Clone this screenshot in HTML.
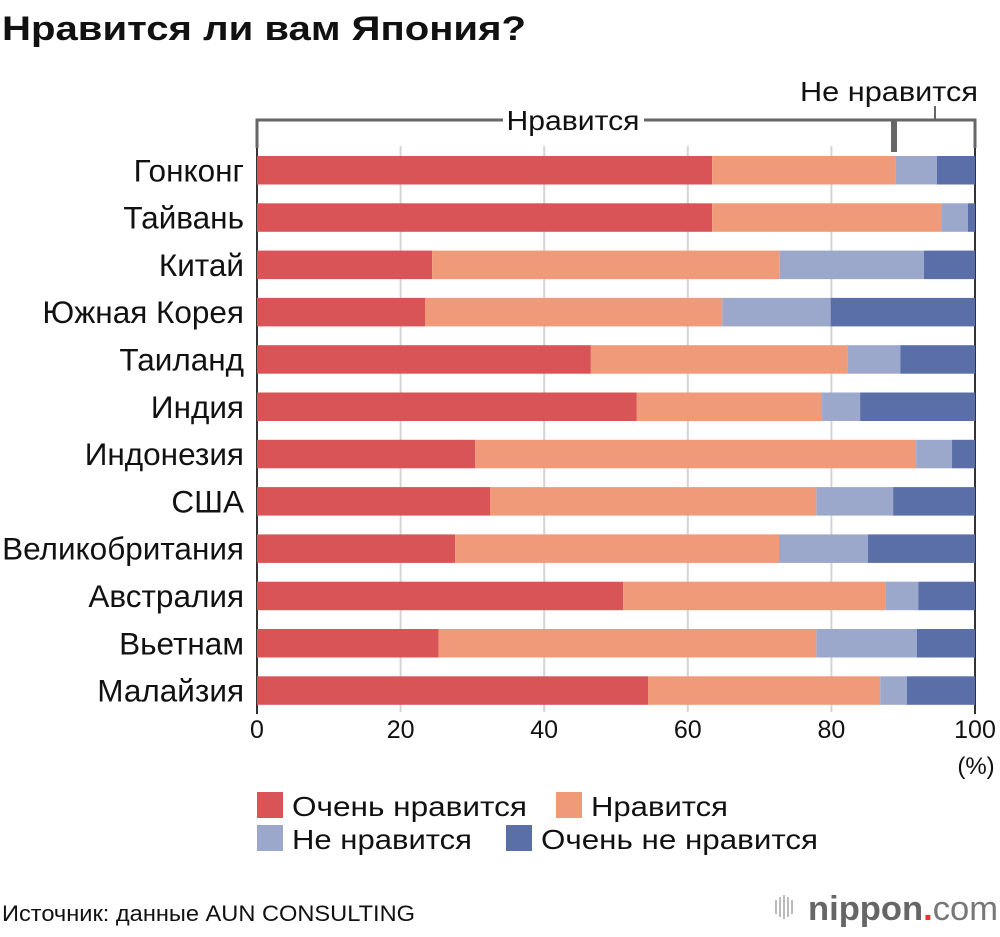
<!DOCTYPE html>
<html><head><meta charset="utf-8"><style>
body{margin:0;background:#fff;font-family:"Liberation Sans","Noto Sans CJK JP",sans-serif;}
svg text{font-family:"Liberation Sans","Noto Sans CJK JP",sans-serif;}
</style></head><body>
<svg width="1000" height="932" viewBox="0 0 1000 932" id="chart">
<text x="2" y="40" font-size="34" font-weight="bold" fill="#111" textLength="524" lengthAdjust="spacingAndGlyphs">Нравится ли вам Япония?</text>
<g id="grid"></g>
<g id="bars"></g>
<g id="labels"></g>
<g id="bracket" stroke="#666" fill="none" stroke-width="3">
<path d="M257,148 V120 H503 M644,120 H975 V148"/>
<line x1="894" y1="120" x2="894" y2="152" stroke-width="6"/>
<line x1="935" y1="106" x2="935" y2="120" stroke-width="2"/>
</g>
<text x="573" y="130" font-size="28" text-anchor="middle" fill="#111" textLength="133" lengthAdjust="spacingAndGlyphs">Нравится</text>
<text x="889" y="101" font-size="28" text-anchor="middle" fill="#111" textLength="178" lengthAdjust="spacingAndGlyphs">Не нравится</text>
<text x="976" y="774" font-size="24" text-anchor="middle" fill="#111">(%)</text>
<g id="legend" font-size="28" fill="#111">
<g><rect x="257" y="792" width="26" height="26" fill="#d85456"/><text x="292" y="816" textLength="235" lengthAdjust="spacingAndGlyphs">Очень нравится</text></g>
<g><rect x="556" y="792" width="26" height="26" fill="#f09a7a"/><text x="591" y="816" textLength="137" lengthAdjust="spacingAndGlyphs">Нравится</text></g>
<g><rect x="257" y="825" width="26" height="26" fill="#9ba8cc"/><text x="292" y="849" textLength="180" lengthAdjust="spacingAndGlyphs">Не нравится</text></g>
<g><rect x="506" y="825" width="26" height="26" fill="#5a6ea8"/><text x="541" y="849" textLength="277" lengthAdjust="spacingAndGlyphs">Очень не нравится</text></g>
</g>
<text x="2" y="921" font-size="22" fill="#111" textLength="413" lengthAdjust="spacingAndGlyphs">Источник: данные AUN CONSULTING</text>
<g>
<g fill="#bbb"><rect x="775" y="900" width="2" height="14"/><rect x="779" y="897" width="2" height="20"/><rect x="783" y="895" width="2" height="24"/><rect x="787" y="897" width="2" height="20"/><rect x="791" y="900" width="2" height="14"/></g>
<text x="808" y="920" font-size="34" font-weight="bold" fill="#666" textLength="190" lengthAdjust="spacingAndGlyphs">nippon<tspan fill="#e33">.</tspan><tspan font-weight="normal" fill="#777">com</tspan></text>
</g>
</svg>
<script>
const categories=["Гонконг","Тайвань","Китай","Южная Корея","Таиланд","Индия","Индонезия","США","Великобритания","Австралия","Вьетнам","Малайзия"];
const veryLike=[63.4,63.4,24.4,23.4,46.5,52.9,30.4,32.5,27.6,51.0,25.3,54.5];
const like=[25.5,32.0,48.4,41.4,35.7,25.8,61.4,45.4,45.1,36.5,52.6,32.3];
const dislike=[5.8,3.6,20.1,15.1,7.4,5.3,5.0,10.7,12.4,4.6,14.0,3.7];
const veryDislike=[5.3,1.0,7.1,20.1,10.4,16.0,3.2,11.4,14.9,7.9,8.1,9.5];
const ticks=[0,20,40,60,80,100];
const NS="http://www.w3.org/2000/svg";
const x0=257,x1=975,yTop=156,step=47.3,bh=28.5;
const xs=v=>x0+(x1-x0)*v/100;
const ys=i=>yTop+i*step;
function mk(t,a,p){const e=document.createElementNS(NS,t);for(const k in a)e.setAttribute(k,a[k]);p.appendChild(e);return e;}
const grid=document.getElementById('grid'),bars=document.getElementById('bars'),labels=document.getElementById('labels');
ticks.forEach(t=>{
  if(t>0&&t<100){const l=mk('line',{x1:xs(t),x2:xs(t),y1:146,y2:712,stroke:'#d4d4d4','stroke-width':2},grid);
  
  }
  const tx=mk('text',{x:xs(t),y:738,'font-size':25,'text-anchor':'middle',fill:'#111'},labels);
  tx.textContent=t;
  
  
});
const series=[["very-like",veryLike,"#d85456"],["like",like,"#f09a7a"],["dislike",dislike,"#9ba8cc"],["very-dislike",veryDislike,"#5a6ea8"]];
categories.forEach((c,i)=>{
  let acc=0;
  series.forEach(([n,arr,col])=>{
    const v=arr[i];
    const r=mk('rect',{x:xs(acc),y:ys(i),width:xs(acc+v)-xs(acc),height:bh,fill:col},bars);
    
    
    acc+=v;
  });
  const t=mk('text',{x:244,y:ys(i)+bh/2+11,'font-size':31.5,'text-anchor':'end',fill:'#111'},labels);
  t.textContent=c;
  
  
});
const ax=mk('line',{x1:x0,x2:x0,y1:146,y2:714,stroke:'#333','stroke-width':2},grid);


const ax2=mk('line',{x1:x1,x2:x1,y1:146,y2:714,stroke:'#333','stroke-width':2},grid);


</script>
</body></html>
